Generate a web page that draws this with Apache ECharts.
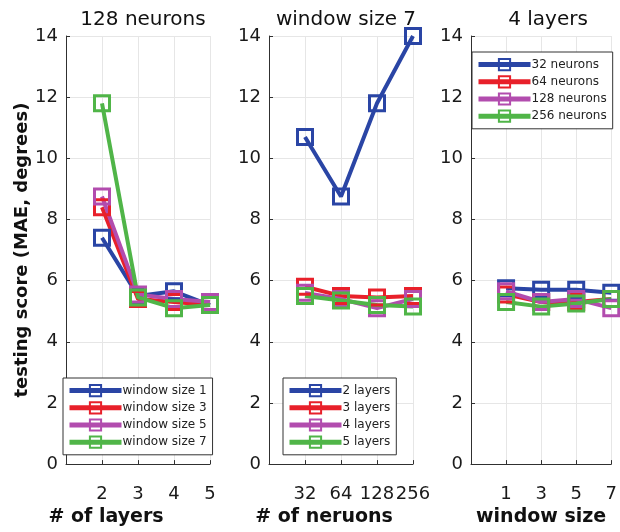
<!DOCTYPE html>
<html>
<head>
<meta charset="utf-8">
<script src="https://cdn.jsdelivr.net/npm/echarts@6/dist/echarts.min.js"></script>
<style>html,body{margin:0;padding:0;background:#fff}#c{width:620px;height:532px}</style>
</head>
<body>
<div id="c"></div>
<script>
// ---- data ----
const layers = ['2', '3', '4', '5'];
const neurons = ['32', '64', '128', '256'];
const windowSizes = ['1', '3', '5', '7'];

// panel 1: 128 neurons, x = # of layers
const p1Names = ['window size 1', 'window size 3', 'window size 5', 'window size 7'];
const p1ws1 = [7.4, 5.5, 5.65, 5.2];
const p1ws3 = [8.4, 5.4, 5.3, 5.2];
const p1ws5 = [8.75, 5.55, 5.4, 5.3];
const p1ws7 = [11.8, 5.45, 5.1, 5.2];

// panel 2: window size 7, x = # of neurons
const p2Names = ['2 layers', '3 layers', '4 layers', '5 layers'];
const p2l2 = [10.7, 8.75, 11.8, 14.0];
const p2l3 = [5.8, 5.5, 5.45, 5.5];
const p2l4 = [5.6, 5.4, 5.1, 5.4];
const p2l5 = [5.5, 5.35, 5.2, 5.15];

// panel 3: 4 layers, x = window size
const p3Names = ['32 neurons', '64 neurons', '128 neurons', '256 neurons'];
const p3n32 = [5.75, 5.7, 5.7, 5.6];
const p3n64 = [5.55, 5.3, 5.3, 5.4];
const p3n128 = [5.65, 5.3, 5.4, 5.1];
const p3n256 = [5.3, 5.15, 5.25, 5.4];

const titles = ['128 neurons', 'window size 7', '4 layers'];
const xNames = ['# of layers', '# of neruons', 'window size'];
const yName = 'testing score (MAE, degrees)';

const colors = ['#2a45a5', '#e8202a', '#b24cae', '#50b548'];
const axisColor = '#303030';
const FONT = 'DejaVu Sans, Verdana, sans-serif';

const panels = [
  { cats: layers, names: p1Names, vals: [p1ws1, p1ws3, p1ws5, p1ws7], left: 66, nameShift: 64, legend: { left: 63, top: 378 } },
  { cats: neurons, names: p2Names, vals: [p2l2, p2l3, p2l4, p2l5], left: 269, nameShift: 34, legend: { left: 283, top: 378 } },
  { cats: windowSizes, names: p3Names, vals: [p3n32, p3n64, p3n128, p3n256], left: 471, nameShift: 0, legend: { left: 472, top: 52 } }
];

const W = 144, TOP = 36, H = 436;
const grid = [], xAxis = [], yAxis = [], series = [], legend = [], title = [];

panels.forEach((p, k) => {
  grid.push({ left: p.left, top: TOP, width: W, height: H, containLabel: false });
  title.push({
    text: titles[k], left: p.left + W / 2, top: 5, textAlign: 'center',
    textStyle: { fontFamily: FONT, fontSize: 20, fontWeight: 'normal', color: '#111' }
  });
  xAxis.push({
    type: 'category', gridIndex: k, data: [''].concat(p.cats), boundaryGap: false,
    name: xNames[k], nameLocation: 'middle', nameGap: 39,
    nameTextStyle: { fontFamily: FONT, fontSize: 19, fontWeight: 'bold', color: '#111', padding: [0, p.nameShift, 0, 0] },
    axisLine: { lineStyle: { color: axisColor, width: 1 } },
    axisTick: { inside: true, length: 4, lineStyle: { color: axisColor } },
    axisLabel: { fontFamily: FONT, fontSize: 18, color: '#1a1a1a', margin: 21, interval: 0 },
    splitLine: { show: true, lineStyle: { color: '#e6e6e6', width: 1 } }
  });
  yAxis.push({
    type: 'value', gridIndex: k, min: 0, max: 14, interval: 2,
    name: k === 0 ? yName : '', nameLocation: 'middle', nameGap: 35,
    nameTextStyle: { fontFamily: FONT, fontSize: 18, fontWeight: 'bold', color: '#111' },
    axisLine: { show: true, lineStyle: { color: axisColor, width: 1 } },
    axisTick: { show: true, inside: true, length: 4, lineStyle: { color: axisColor } },
    axisLabel: { fontFamily: FONT, fontSize: 18, color: '#1a1a1a', margin: 8 },
    splitLine: { show: true, lineStyle: { color: '#e6e6e6', width: 1 } }
  });
  p.names.forEach((nm, i) => {
    series.push({
      name: nm, type: 'line', xAxisIndex: k, yAxisIndex: k,
      data: p.cats.map((c, j) => [c, p.vals[i][j]]),
      symbol: 'rect', symbolSize: 15, showAllSymbol: true,
      color: colors[i],
      lineStyle: { color: colors[i], width: 4 },
      itemStyle: { color: 'rgba(255,255,255,0)', borderColor: colors[i], borderWidth: 3 },
      emphasis: { disabled: true },
      animation: false
    });
  });
  legend.push({
    data: p.names, orient: 'vertical', left: p.legend.left, top: p.legend.top,
    itemWidth: 52, itemHeight: 14, itemGap: 4,
    padding: [6, 6, 6, 4],
    borderColor: '#333', borderWidth: 1, backgroundColor: '#fff',
    lineStyle: { width: 5 },
    textStyle: { fontFamily: FONT, fontSize: 12, color: '#222', padding: [0, 0, 0, -4] },
    selectedMode: false
  });
});

const chart = echarts.init(document.getElementById('c'), null, { renderer: 'canvas' });
chart.setOption({
  backgroundColor: '#fff', animation: false,
  title, grid, xAxis, yAxis, series, legend
});
</script>
</body>
</html>
